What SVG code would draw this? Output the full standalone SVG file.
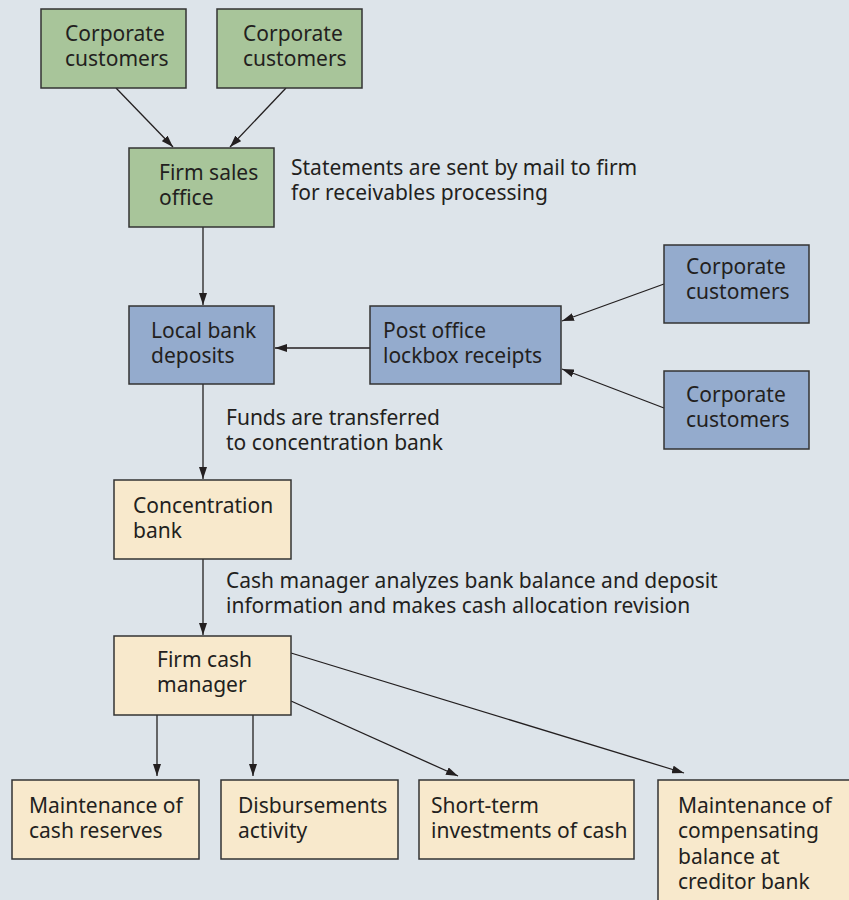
<svg xmlns="http://www.w3.org/2000/svg" width="849" height="900" viewBox="0 0 849 900">
  <style>
    .box { stroke: #333; stroke-width: 1.5; }
    .green { fill: #a8c59a; }
    .blue { fill: #94abcd; }
    .cream { fill: #f8e9cc; }
    .lbl { font-family: "Noto Sans", "Open Sans", sans-serif; font-size: 21px; fill: #231f20; }
    .conn { stroke: #231f20; stroke-width: 1.3; fill: none; marker-end: url(#arrow); }
  </style>
  <defs>
    <marker id="arrow" viewBox="0 0 12 8" refX="12" refY="4" markerWidth="12" markerHeight="8" markerUnits="userSpaceOnUse" orient="auto">
      <path d="M0,0 L12,4 L0,8 Z" fill="#231f20"/>
    </marker>
  </defs>

  <rect width="849" height="900" fill="#dde4ea"/>

  <!-- connectors -->
  <g id="connectors">
    <line class="conn" x1="116" y1="88" x2="173" y2="147"/>
    <line class="conn" x1="286" y1="88" x2="230" y2="147"/>
    <line class="conn" x1="203" y1="227" x2="203" y2="305"/>
    <line class="conn" x1="370" y1="348" x2="275" y2="348"/>
    <line class="conn" x1="664" y1="284" x2="562" y2="321"/>
    <line class="conn" x1="664" y1="408" x2="562" y2="369"/>
    <line class="conn" x1="203" y1="384" x2="203" y2="479"/>
    <line class="conn" x1="203" y1="559" x2="203" y2="635"/>
    <line class="conn" x1="157" y1="715" x2="157" y2="776"/>
    <line class="conn" x1="253" y1="715" x2="253" y2="776"/>
    <line class="conn" x1="291" y1="701" x2="458" y2="776"/>
    <line class="conn" x1="291" y1="653" x2="684" y2="773"/>
  </g>

  <!-- annotations -->
  <g id="notes" class="lbl">
    <text x="291" y="175">Statements are sent by mail to firm<tspan x="291" dy="25">for receivables processing</tspan></text>
    <text x="226" y="425">Funds are transferred<tspan x="226" dy="25">to concentration bank</tspan></text>
    <text x="226" y="588">Cash manager analyzes bank balance and deposit<tspan x="226" dy="25">information and makes cash allocation revision</tspan></text>
  </g>

  <!-- top customer nodes -->
  <g id="customers-a">
    <rect class="box green" x="41" y="9" width="145" height="79"/>
    <text class="lbl" x="65" y="41">Corporate<tspan x="65" dy="25">customers</tspan></text>
  </g>
  <g id="customers-b">
    <rect class="box green" x="217" y="9" width="145" height="79"/>
    <text class="lbl" x="243" y="41">Corporate<tspan x="243" dy="25">customers</tspan></text>
  </g>
  <g id="sales-office">
    <rect class="box green" x="129" y="148" width="145" height="79"/>
    <text class="lbl" x="159" y="180">Firm sales<tspan x="159" dy="25">office</tspan></text>
  </g>

  <!-- bank deposit nodes -->
  <g id="local-bank">
    <rect class="box blue" x="129" y="306" width="145" height="78"/>
    <text class="lbl" x="151" y="338">Local bank<tspan x="151" dy="25">deposits</tspan></text>
  </g>
  <g id="lockbox">
    <rect class="box blue" x="370" y="306" width="191" height="78"/>
    <text class="lbl" x="383" y="338">Post office<tspan x="383" dy="25">lockbox receipts</tspan></text>
  </g>
  <g id="customers-c">
    <rect class="box blue" x="664" y="245" width="145" height="78"/>
    <text class="lbl" x="686" y="274">Corporate<tspan x="686" dy="25">customers</tspan></text>
  </g>
  <g id="customers-d">
    <rect class="box blue" x="664" y="371" width="145" height="78"/>
    <text class="lbl" x="686" y="402">Corporate<tspan x="686" dy="25">customers</tspan></text>
  </g>

  <!-- concentration and manager -->
  <g id="concentration-bank">
    <rect class="box cream" x="114" y="480" width="177" height="79"/>
    <text class="lbl" x="133" y="513">Concentration<tspan x="133" dy="25">bank</tspan></text>
  </g>
  <g id="cash-manager">
    <rect class="box cream" x="114" y="636" width="177" height="79"/>
    <text class="lbl" x="157" y="667">Firm cash<tspan x="157" dy="25">manager</tspan></text>
  </g>

  <!-- allocation outcomes -->
  <g id="cash-reserves">
    <rect class="box cream" x="12" y="780" width="187" height="79"/>
    <text class="lbl" x="29" y="813">Maintenance of<tspan x="29" dy="25">cash reserves</tspan></text>
  </g>
  <g id="disbursements">
    <rect class="box cream" x="221" y="780" width="177" height="79"/>
    <text class="lbl" x="238" y="813">Disbursements<tspan x="238" dy="25">activity</tspan></text>
  </g>
  <g id="short-term">
    <rect class="box cream" x="419" y="780" width="215" height="79"/>
    <text class="lbl" x="431" y="813">Short-term<tspan x="431" dy="25">investments of cash</tspan></text>
  </g>
  <g id="compensating">
    <rect class="box cream" x="658" y="780" width="200" height="130"/>
    <text class="lbl" x="678" y="813">Maintenance of<tspan x="678" dy="25">compensating</tspan><tspan x="678" dy="26">balance at</tspan><tspan x="678" dy="25">creditor bank</tspan></text>
  </g>
</svg>
